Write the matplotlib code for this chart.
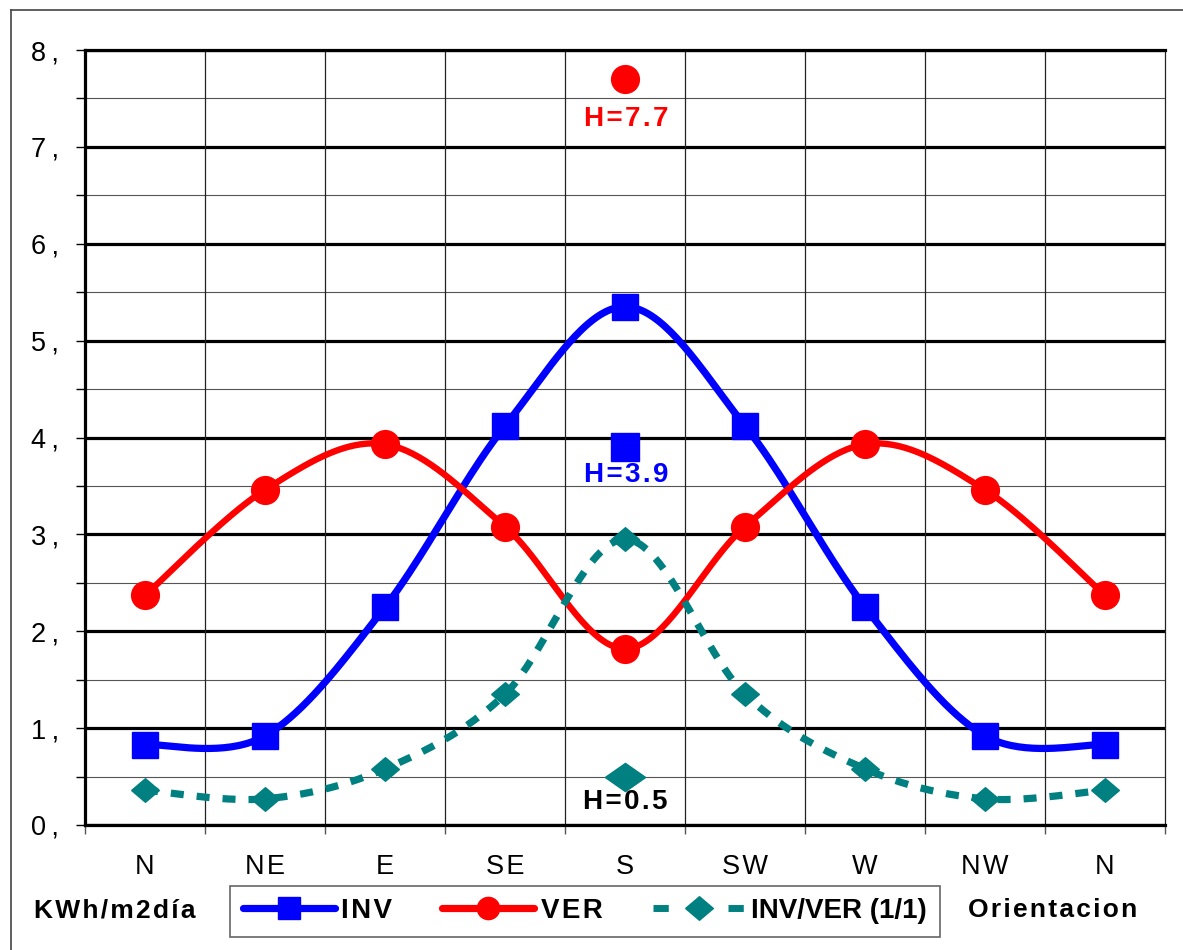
import numpy as np
import matplotlib
matplotlib.use("Agg")
import matplotlib.pyplot as plt
from matplotlib.lines import Line2D

plt.rcParams['font.family'] = ['Liberation Sans', 'DejaVu Sans']

# Radiacion diaria por orientacion (KWh/m2 dia)
orientaciones = ["N", "NE", "E", "SE", "S", "SW", "W", "NW", "N"]
inv = [0.83, 0.92, 2.25, 4.12, 5.35, 4.12, 2.25, 0.92, 0.83]
ver = [2.37, 3.46, 3.93, 3.08, 1.82, 3.08, 3.93, 3.46, 2.37]
inv_ver = [0.36, 0.27, 0.58, 1.35, 2.95, 1.35, 0.58, 0.27, 0.36]

# Radiacion sobre plano horizontal (en la columna S)
h_ver = 7.7
h_inv = 3.9
h_inv_ver = 0.5

AZUL = "#0000FF"
ROJO = "#FF0000"
VERDE = "#008080"
HS = "\u200a"  # espacio fino entre letras


def espaciar(s):
    return HS.join(s)


def suavizar(y, n=40):
    # curva tipo Bezier (como las lineas suavizadas de Excel)
    y = np.asarray(y, dtype=float)
    x = np.arange(len(y), dtype=float)
    xs, ys = [], []
    for i in range(len(y) - 1):
        i0, i3 = max(i - 1, 0), min(i + 2, len(y) - 1)
        p0 = np.array([x[i0], y[i0]])
        p1 = np.array([x[i], y[i]])
        p2 = np.array([x[i + 1], y[i + 1]])
        p3 = np.array([x[i3], y[i3]])
        c1 = p1 + (p2 - p0) / 6
        c2 = p2 - (p3 - p1) / 6
        t = np.linspace(0, 1, n)[:, None]
        seg = ((1 - t) ** 3) * p1 + 3 * ((1 - t) ** 2) * t * c1 + 3 * (1 - t) * t ** 2 * c2 + t ** 3 * p2
        xs.append(seg[:, 0])
        ys.append(seg[:, 1])
    return np.concatenate(xs), np.concatenate(ys)


rombo = [(-1, 0), (0, 0.85), (1, 0), (0, -0.85), (-1, 0)]
rombo_plano = [(-1, 0), (0, 0.7), (1, 0), (0, -0.7), (-1, 0)]

fig = plt.figure(figsize=(11.83, 9.5), dpi=100)
ax = fig.add_axes([85 / 1183, 1 - 825 / 950, 1080 / 1183, 775 / 950])

x = np.arange(len(orientaciones))

# lineas suavizadas
sx, sy = suavizar(inv)
ax.plot(sx, sy, color=AZUL, lw=5.2, solid_capstyle='round', zorder=3)
sx, sy = suavizar(ver)
ax.plot(sx, sy, color=ROJO, lw=4.6, solid_capstyle='round', zorder=3)
sx, sy = suavizar(inv_ver)
ax.plot(sx, sy, color=VERDE, lw=5.2, dashes=(1.8, 1.8), dash_capstyle='butt', zorder=3)

# marcadores
ax.plot(x, inv, ls='none', marker='s', ms=19, color=AZUL, zorder=4)
ax.plot(x, ver, ls='none', marker='o', ms=20, color=ROJO, zorder=4)
ax.plot(x, inv_ver, ls='none', marker=rombo, ms=20, color=VERDE, zorder=4)

# valores horizontales
ax.plot([4], [h_ver], ls='none', marker='o', ms=20, color=ROJO, zorder=4)
ax.plot([4], [h_inv], ls='none', marker='s', ms=20, color=AZUL, zorder=4)
ax.plot([4], [h_inv_ver], ls='none', marker=rombo_plano, ms=29, color=VERDE, zorder=4)
ax.annotate(espaciar("H=%.1f" % h_ver), (4, h_ver), xytext=(1, -29), textcoords='offset points',
            ha='center', va='center', color=ROJO, fontsize=20, fontweight='bold')
ax.annotate(espaciar("H=%.1f" % h_inv), (4, h_inv), xytext=(1, -20), textcoords='offset points',
            ha='center', va='center', color=AZUL, fontsize=20, fontweight='bold')
ax.annotate(espaciar("H=%.1f" % h_inv_ver), (4, h_inv_ver), xytext=(0, -18), textcoords='offset points',
            ha='center', va='center', color='black', fontsize=20, fontweight='bold')

ax.set_xlim(-0.5, len(orientaciones) - 0.5)
ax.set_ylim(0, 8)

# rejilla
for v in range(0, 9):
    ax.axhline(v, color='black', lw=2.3, zorder=1)
for v in np.arange(0.5, 8, 1):
    ax.axhline(v, color='#555555', lw=0.8, zorder=1)
for b in np.arange(0.5, len(orientaciones) - 1, 1):
    ax.axvline(b, color='#222222', lw=0.9, zorder=1)

ax.set_yticks(range(0, 9))
ax.set_yticklabels(["%d\u2009," % v for v in range(0, 9)], fontsize=19.5)
ax.set_yticks(np.arange(0.5, 8, 1), minor=True)
ax.tick_params(axis='y', which='both', length=6.5, width=1, pad=12)

ax.set_xticks(x)
ax.set_xticklabels([espaciar(o) for o in orientaciones], fontsize=19.5)
ax.set_xticks(np.arange(-0.5, len(orientaciones), 1), minor=True)
ax.tick_params(axis='x', which='major', length=0, pad=21)
ax.tick_params(axis='x', which='minor', length=6.5, width=1, color='#555555')

ax.spines['left'].set_linewidth(2.3)
ax.spines['bottom'].set_linewidth(2.3)
ax.spines['top'].set_linewidth(2.3)
ax.spines['right'].set_linewidth(0.9)
ax.spines['right'].set_color('#222222')

# leyenda
handles = [
    Line2D([], [], color=AZUL, lw=5.2, marker='s', ms=16, solid_capstyle='round'),
    Line2D([], [], color=ROJO, lw=5.2, marker='o', ms=16, solid_capstyle='round'),
    Line2D([], [], color=VERDE, lw=5.0, marker=rombo, ms=20, dashes=(2.2, 3.2)),
]
leg = fig.legend(handles, [espaciar("INV"), espaciar("VER"), "INV/VER (1/1)"],
                 loc='center', bbox_to_anchor=(585 / 1183, 1 - 911 / 950), ncol=3,
                 prop={'size': 20, 'weight': 'bold'}, handlelength=3.3,
                 handletextpad=0.25, columnspacing=1.8, borderpad=0.45,
                 fancybox=False, framealpha=1, edgecolor='#666666')
leg.get_frame().set_linewidth(1.2)

fig.text(115 / 1183, 1 - 910 / 950, espaciar("KWh/m2día"), ha='center', va='center',
         fontsize=19, fontweight='bold')
fig.text(1053 / 1183, 1 - 910 / 950, espaciar("Orientacion"), ha='center', va='center',
         fontsize=19, fontweight='bold')

# marco del grafico
fig.add_artist(Line2D([11 / 1183, 11 / 1183], [0, 1 - 10 / 950], color='#444444', lw=1.2))
fig.add_artist(Line2D([11 / 1183, 1], [1 - 10 / 950, 1 - 10 / 950], color='#444444', lw=1.2))

fig.savefig("out.png", dpi=100)
